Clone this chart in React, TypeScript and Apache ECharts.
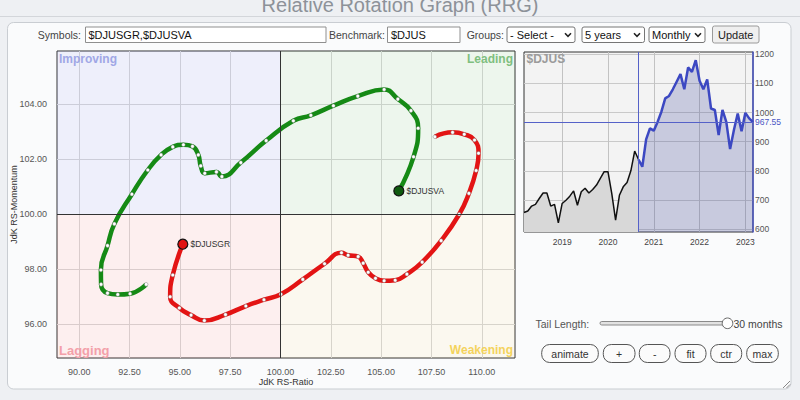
import React, { useEffect, useRef } from "react";
import * as echarts from "echarts";

// ---------- RRG (main chart) ----------
const X_TICKS = [90, 92.5, 95, 97.5, 100, 102.5, 105, 107.5, 110];
const Y_TICKS = [96, 98, 100, 102, 104];
const X_MIN = 88.9;
const X_MAX = 111.65;
const Y_MIN = 94.76;
const Y_MAX = 105.93;
const CENTER = 100;

const djusvaRatio = [93.33, 92.53, 91.92, 91.41, 91.09, 91.08, 91.41, 91.75, 92.62, 93.41, 94.07, 94.65, 95.18, 95.63, 95.92, 96.04, 96.24, 96.82, 97.09, 98.03, 99.29, 100.64, 101.51, 102.63, 103.84, 105.15, 105.83, 106.48, 106.84, 106.61, 105.88];
const djusvaMomentum = [97.44, 97.1, 97.07, 97.12, 97.44, 97.96, 98.85, 99.64, 100.72, 101.6, 102.15, 102.44, 102.52, 102.46, 102.15, 101.75, 101.48, 101.53, 101.36, 101.87, 102.67, 103.39, 103.59, 103.94, 104.29, 104.53, 104.18, 103.76, 103.12, 102.08, 100.84];

const djusgrRatio = [107.67, 108.55, 109.13, 109.64, 109.84, 109.72, 109.36, 108.88, 107.98, 107.04, 106.28, 105.7, 105.15, 104.72, 104.36, 104.11, 103.86, 103.36, 103.03, 102.19, 101.11, 100.02, 99.18, 98.28, 97.27, 96.22, 95.56, 94.98, 94.52, 94.65, 95.15];
const djusgrMomentum = [102.81, 102.97, 102.9, 102.69, 102.21, 101.58, 100.75, 99.99, 99.03, 98.25, 97.81, 97.59, 97.57, 97.66, 97.88, 98.21, 98.45, 98.5, 98.59, 98.19, 97.62, 97.08, 96.88, 96.65, 96.34, 96.12, 96.32, 96.58, 96.99, 97.78, 98.9];

// ---------- Benchmark mini chart ($DJUS, monthly) ----------
const priceBefore = [657, 662, 679, 685, 705, 724, 724, 679, 685, 621, 688, 699, 713, 731, 682, 728, 740, 724, 736, 751, 774, 797, 797, 722, 631, 716, 745, 760, 800, 868, 839];
const priceAfter = [814, 908, 946, 938, 968, 1003, 1049, 1057, 1080, 1106, 1132, 1080, 1155, 1140, 1180, 1109, 1080, 1114, 1014, 1009, 923, 1009, 968, 875, 940, 997, 936, 999, 980, 967.55];
const PRICE_TICKS = [600, 700, 800, 900, 1000, 1100, 1200];
const P_MIN = 590;
const P_MAX = 1208;
const LAST_PRICE = 967.55;
const START_YEAR = 2018;
const START_MONTH = 3;

const FONT = '"Liberation Sans", Arial, Helvetica, sans-serif';

const GREEN = "#158a15";
const RED = "#e31414";
const BLUE = "#3c48c2";

function txt(text: string, x: number, y: number, o: any = {}) {
  const align = o.align || "left";
  return {
    type: "text",
    x,
    y,
    rotation: o.rotation || 0,
    z: o.z ?? 20,
    silent: true,
    style: {
      text,
      fill: o.fill || "#333",
      fontSize: o.size || 10.5,
      fontFamily: FONT,
      fontWeight: o.weight || "normal",
      align,
      textAlign: align,
      verticalAlign: o.valign || "middle",
      textVerticalAlign: o.valign || "middle",
    },
  };
}

function box(x: number, y: number, w: number, h: number, o: any = {}) {
  return {
    type: "rect",
    z: o.z ?? 15,
    silent: true,
    shape: { x, y, width: w, height: h, r: o.r ?? 0 },
    style: { fill: o.fill || "#fff", stroke: o.stroke || "#8f8f8f", lineWidth: o.lw ?? 1 },
  };
}

function chevron(cx: number, cy: number) {
  return {
    type: "polyline",
    z: 20,
    silent: true,
    shape: { points: [[cx - 3, cy - 1.5], [cx, cy + 1.5], [cx + 3, cy - 1.5]] },
    style: { stroke: "#222", lineWidth: 1.6, fill: "none" },
  };
}

function pill(label: string, x1: number, x2: number) {
  return [
    box(x1, 344.5, x2 - x1, 18, { r: 8, stroke: "#555", fill: "#fbfbfb" }),
    txt(label, (x1 + x2) / 2, 353.5, { align: "center", fill: "#333", size: 10.5 }),
  ];
}

export default function App() {
  const ref = useRef<HTMLDivElement>(null);

  useEffect(() => {
    if (!ref.current) return;
    const chart = echarts.init(ref.current, undefined, { renderer: "svg" });

    const months = Array.from({ length: priceBefore.length + priceAfter.length }, (_, i) => {
      const m = START_MONTH - 1 + i;
      const y = START_YEAR + Math.floor(m / 12);
      const mm = (m % 12) + 1;
      return `${y}-${String(mm).padStart(2, "0")}`;
    });
    const isJan = (_i: number, v: string) => v.endsWith("-01");
    const splitIdx = priceBefore.length - 1;
    const blackData = months.map((_, i) => (i <= splitIdx ? priceBefore[i] : null));
    const blueData = months.map((_, i) =>
      i < splitIdx ? null : i === splitIdx ? priceBefore[i] : priceAfter[i - priceBefore.length]
    );

    const greenPts = djusvaRatio.map((x, i) => [x, djusvaMomentum[i]]);
    const redPts = djusgrRatio.map((x, i) => [x, djusgrMomentum[i]]);

    const trail = (name: string, pts: number[][], color: string) => ({
      name,
      type: "line",
      xAxisIndex: 0,
      yAxisIndex: 0,
      data: pts,
      smooth: 0.5,
      z: 3,
      symbol: "circle",
      symbolSize: 3.6,
      showSymbol: true,
      lineStyle: { color, width: 4.5 },
      itemStyle: { color: "#ffffff", borderColor: "#777", borderWidth: 0.5 },
      emphasis: { disabled: true },
    });

    const head = (name: string, pt: number[], fill: string) => ({
      name: name + "-head",
      type: "scatter",
      xAxisIndex: 0,
      yAxisIndex: 0,
      data: [pt],
      z: 4,
      symbolSize: 10,
      itemStyle: { color: fill, borderColor: "#111", borderWidth: 1.2, opacity: 1 },
      label: {
        show: true,
        position: "right",
        distance: 2,
        formatter: name,
        color: "#333",
        fontSize: 8.5,
        fontFamily: FONT,
      },
      emphasis: { disabled: true },
    });

    const graphicEls: any[] = [
      { type: "rect", z: -10, silent: true, shape: { x: 0, y: 0, width: 800, height: 400 }, style: { fill: "#eef0f3" } },
      txt("Relative Rotation Graph (RRG)", 400, 15, { align: "center", valign: "bottom", size: 20, fill: "#8d9299", z: -5 }),
      { type: "line", z: -5, silent: true, shape: { x1: 0, y1: 16.5, x2: 800, y2: 16.5 }, style: { stroke: "#d3d6da", lineWidth: 1 } },
      { type: "rect", z: -5, silent: true, shape: { x: 7.5, y: 22.5, width: 783.5, height: 366.5, r: 6 }, style: { fill: "#fafbfc", stroke: "#c9cdd2", lineWidth: 1 } },
      // y axis title
      txt("JdK RS-Momentum", 14, 204.5, { align: "center", size: 9, fill: "#333", rotation: Math.PI / 2 }),
      // top form
      txt("Symbols:", 81, 34.5, { align: "right", fill: "#444" }),
      box(85.5, 27, 240.5, 15.5, { stroke: "#8f8f8f" }),
      txt("$DJUSGR,$DJUSVA", 88.5, 34.8, { fill: "#111", size: 11 }),
      txt("Benchmark:", 385, 34.5, { align: "right", fill: "#444" }),
      box(387.5, 27, 72.5, 15.5, { stroke: "#8f8f8f" }),
      txt("$DJUS", 391, 34.8, { fill: "#111", size: 11 }),
      txt("Groups:", 504, 34.5, { align: "right", fill: "#444" }),
      box(507, 27, 68, 15.5, { stroke: "#767676", r: 2 }),
      txt("- Select -", 510, 34.8, { fill: "#111", size: 11 }),
      chevron(568, 34.8),
      box(582, 27, 62.5, 15.5, { stroke: "#767676", r: 2 }),
      txt("5 years", 585, 34.8, { fill: "#111", size: 11 }),
      chevron(637, 34.8),
      box(649, 27, 56, 15.5, { stroke: "#767676", r: 2 }),
      txt("Monthly", 652, 34.8, { fill: "#111", size: 11 }),
      chevron(698, 34.8),
      box(712.5, 26, 46.5, 17, { stroke: "#9a9a9a", fill: "#efefef", r: 2 }),
      txt("Update", 735.7, 34.8, { align: "center", fill: "#222", size: 11 }),
      // quadrant labels
      txt("Improving", 59, 59, { size: 12, weight: "bold", fill: "#a0a7e6" }),
      txt("Leading", 513, 59, { size: 12, weight: "bold", fill: "#7fbf7f", align: "right" }),
      txt("Lagging", 59, 350, { size: 13, weight: "bold", fill: "#f3a0a9" }),
      txt("Weakening", 513, 350, { size: 12, weight: "bold", fill: "#f4d35c", align: "right" }),
      // mini chart title
      txt("$DJUS", 526.5, 58.5, { size: 12, weight: "bold", fill: "#9b9b9b" }),
      // tail length slider
      txt("Tail Length:", 535.5, 323.5, { fill: "#555", size: 10.5 }),
      box(600, 321.5, 124, 3.5, { r: 2, stroke: "#8a8a8a", fill: "#e2e2e2" }),
      { type: "circle", z: 20, silent: true, shape: { cx: 727.5, cy: 323.3, r: 5.3 }, style: { fill: "#fff", stroke: "#666", lineWidth: 1 } },
      txt("30 months", 733.5, 323.5, { fill: "#444", size: 10.5 }),
      ...pill("animate", 541.7, 598.3),
      ...pill("+", 603.3, 635),
      ...pill("-", 639.3, 670),
      ...pill("fit", 675, 706),
      ...pill("ctr", 710.7, 741.7),
      ...pill("max", 746.7, 778.3),
      // resize grip
      { type: "line", z: 20, silent: true, shape: { x1: 783, y1: 388, x2: 790, y2: 381 }, style: { stroke: "#888", lineWidth: 1 } },
      { type: "line", z: 20, silent: true, shape: { x1: 786.5, y1: 388, x2: 790, y2: 384.5 }, style: { stroke: "#888", lineWidth: 1 } },
    ];

    const axisLabelStyle = { color: "#555", fontSize: 9, fontFamily: FONT };
    const miniLabelStyle = { color: "#444", fontSize: 8.5, fontFamily: FONT };

    chart.setOption({
      animation: false,
      backgroundColor: "#eef0f3",
      textStyle: { fontFamily: FONT },
      graphic: { elements: graphicEls },
      grid: [
        { left: 57, top: 51, width: 458, height: 307, containLabel: false, outerBoundsMode: "none", show: true, backgroundColor: "#ffffff", borderColor: "#333", borderWidth: 1, z: 0 },
        { left: 524, top: 52, width: 229, height: 180, containLabel: false, outerBoundsMode: "none", show: true, backgroundColor: "#f3f3f3", borderColor: "#333", borderWidth: 1, z: 0 },
      ],
      xAxis: [
        {
          type: "value",
          gridIndex: 0,
          min: X_MIN,
          max: X_MAX,
          name: "JdK RS-Ratio",
          nameLocation: "middle",
          nameGap: 19,
          nameMoveOverlap: false,
          nameTextStyle: { color: "#333", fontSize: 9, fontFamily: FONT },
          axisLine: { show: false },
          axisTick: { show: false, customValues: X_TICKS },
          axisLabel: { ...axisLabelStyle, customValues: X_TICKS, margin: 9, hideOverlap: false, interval: 0, formatter: (v: number) => v.toFixed(2) },
          splitLine: { show: true, lineStyle: { color: "#d9d9d9", width: 1 } },
        },
        {
          type: "category",
          gridIndex: 1,
          data: months,
          boundaryGap: false,
          axisLine: { show: false },
          axisTick: { show: false },
          axisLabel: { ...miniLabelStyle, interval: isJan, margin: 5, formatter: (v: string) => v.slice(0, 4) },
          splitLine: { show: true, interval: isJan, lineStyle: { color: "#c2c2c2", width: 1 } },
        },
      ],
      yAxis: [
        {
          type: "value",
          gridIndex: 0,
          min: Y_MIN,
          max: Y_MAX,
          axisLine: { show: false },
          axisTick: { show: false, customValues: Y_TICKS },
          axisLabel: { ...axisLabelStyle, customValues: Y_TICKS, margin: 10, formatter: (v: number) => v.toFixed(2) },
          splitLine: { show: true, lineStyle: { color: "#d9d9d9", width: 1 } },
        },
        {
          type: "value",
          gridIndex: 1,
          position: "right",
          min: P_MIN,
          max: P_MAX,
          axisLine: { show: true, lineStyle: { color: "#4b57c4", width: 1.5 } },
          axisTick: { show: false, customValues: PRICE_TICKS },
          axisLabel: { ...miniLabelStyle, color: "#555", customValues: PRICE_TICKS, margin: 2, formatter: (v: number) => String(v) },
          splitLine: { show: true, lineStyle: { color: "#c9c9c9", width: 1 } },
        },
      ],
      series: [
        {
          name: "quadrants",
          type: "line",
          xAxisIndex: 0,
          yAxisIndex: 0,
          data: [[CENTER, CENTER]],
          showSymbol: false,
          lineStyle: { opacity: 0 },
          z: 1,
          silent: true,
          markArea: {
            silent: true,
            data: [
              [{ coord: [X_MIN, CENTER], itemStyle: { color: "rgba(100,110,220,0.11)" } }, { coord: [CENTER, Y_MAX] }],
              [{ coord: [CENTER, CENTER], itemStyle: { color: "rgba(60,150,50,0.092)" } }, { coord: [X_MAX, Y_MAX] }],
              [{ coord: [X_MIN, Y_MIN], itemStyle: { color: "rgba(230,60,60,0.082)" } }, { coord: [CENTER, CENTER] }],
              [{ coord: [CENTER, Y_MIN], itemStyle: { color: "rgba(200,160,40,0.074)" } }, { coord: [X_MAX, CENTER] }],
            ],
          },
          markLine: {
            silent: true,
            symbol: "none",
            label: { show: false },
            lineStyle: { color: "#333", width: 1, type: "solid" },
            data: [{ xAxis: CENTER }, { yAxis: CENTER }],
          },
        },
        trail("$DJUSVA", greenPts, GREEN),
        trail("$DJUSGR", redPts, RED),
        head("$DJUSVA", greenPts[greenPts.length - 1], "#0f5a0f"),
        head("$DJUSGR", redPts[redPts.length - 1], "#e01010"),
        {
          name: "benchmark-before",
          type: "line",
          xAxisIndex: 1,
          yAxisIndex: 1,
          data: blackData,
          showSymbol: false,
          lineStyle: { color: "#111", width: 1.5 },
          areaStyle: { color: "#d8d8d8", opacity: 1 },
          z: 2,
          silent: true,
        },
        {
          name: "benchmark-tail",
          type: "line",
          xAxisIndex: 1,
          yAxisIndex: 1,
          data: blueData,
          showSymbol: false,
          lineStyle: { color: BLUE, width: 2.5 },
          areaStyle: { color: "rgba(70,80,160,0.25)", opacity: 1 },
          z: 3,
          silent: true,
          markLine: {
            silent: true,
            symbol: "none",
            lineStyle: { color: "#5561c8", width: 1, type: "solid" },
            data: [
              { xAxis: months[splitIdx], label: { show: false } },
              {
                yAxis: LAST_PRICE,
                label: { show: true, position: "end", distance: 2, formatter: String(LAST_PRICE), color: "#4b57c4", fontSize: 8.5, fontFamily: FONT },
              },
            ],
          },
        },
      ],
    });

    return () => chart.dispose();
  }, []);

  return (
    <div
      ref={ref}
      style={{ position: "fixed", left: 0, top: 0, width: 800, height: 400 }}
    />
  );
}
